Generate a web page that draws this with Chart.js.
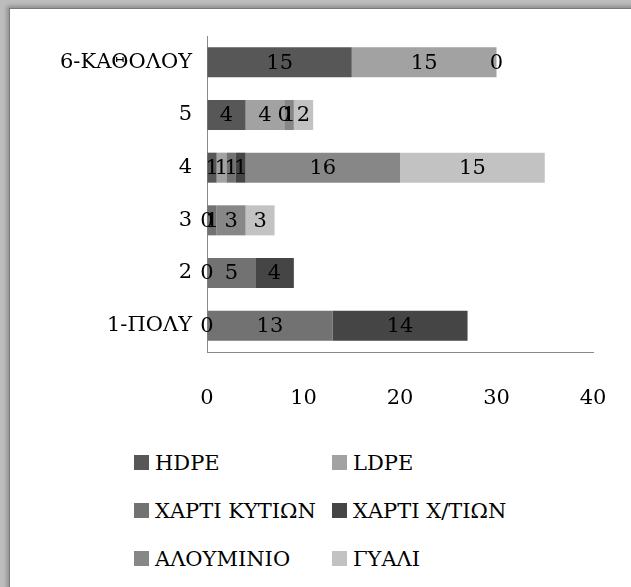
<!DOCTYPE html>
<html>
<head>
<meta charset="utf-8">
<script src="https://cdn.jsdelivr.net/npm/chart.js@4/dist/chart.umd.min.js"></script>
<style>
  html, body { margin: 0; padding: 0; }
  body { width: 631px; height: 587px; position: relative; overflow: hidden; background: #bdbdbd; }
  .frame {
    position: absolute; left: 9px; top: 8px; width: 640px; height: 600px;
    background: #fff; border-left: 1px solid #7a7a7a; border-top: 1px solid #7a7a7a;
    box-shadow: -2px -2px 4px #8c8c8c;
  }
  .chart-box { position: absolute; left: 0; top: 0; width: 631px; height: 420px; }
  .legend {
    position: absolute; left: 134px; top: 447px;
    display: grid; grid-template-columns: 198px auto; row-gap: 17px;
    font-family: "DejaVu Serif", serif; font-size: 21px; color: #000;
  }
  .legend .item { display: flex; align-items: center; height: 31px; white-space: nowrap; }
  .legend .box { width: 15px; height: 15px; margin-right: 6px; }
</style>
</head>
<body>
<div class="frame"></div>
<div class="chart-box"><canvas id="chart"></canvas></div>
<div class="legend" id="legend"></div>
<script>
// categories, top to bottom
const categories = ['6-ΚΑΘΟΛΟΥ', '5', '4', '3', '2', '1-ΠΟΛΥ'];

// series values (null = no bar / no label)
const hdpe      = [15, 4, 1, 0, 0, 0];
const ldpe      = [15, 4, 1, null, null, null];
const xartiKyt  = [0, 0, 1, 1, 5, 13];
const xartiXt   = [null, null, 1, null, 4, 14];
const alouminio = [null, 1, 16, 3, null, null];
const gyali     = [null, 2, 15, 3, null, null];

const seriesNames = ['HDPE', 'LDPE', 'ΧΑΡΤΙ ΚΥΤΙΩΝ', 'ΧΑΡΤΙ Χ/ΤΙΩΝ', 'ΑΛΟΥΜΙΝΙΟ', 'ΓΥΑΛΙ'];
const seriesData = [hdpe, ldpe, xartiKyt, xartiXt, alouminio, gyali];
const seriesColors = ['#575757', '#a2a2a2', '#727272', '#454545', '#878787', '#c2c2c2'];

const xTicks = [0, 10, 20, 30, 40];

const FONT = '"DejaVu Serif", serif';

// draws the value of each segment in its middle
const valueLabels = {
  id: 'valueLabels',
  afterDatasetsDraw(chart) {
    const c = chart.ctx;
    c.save();
    c.font = '21px ' + FONT;
    c.fillStyle = '#000';
    c.textAlign = 'center';
    c.textBaseline = 'middle';
    chart.data.datasets.forEach((ds, i) => {
      const meta = chart.getDatasetMeta(i);
      meta.data.forEach((bar, j) => {
        const v = ds.data[j];
        if (v === null || v === undefined) return;
        c.fillText(String(v), (bar.x + bar.base) / 2, bar.y + 1);
      });
    });
    c.restore();
  }
};

const chart = new Chart(document.getElementById('chart'), {
  type: 'bar',
  data: {
    labels: categories,
    datasets: seriesNames.map((name, i) => ({
      label: name,
      data: seriesData[i],
      backgroundColor: seriesColors[i],
      borderWidth: 0,
      categoryPercentage: 1,
      barPercentage: 0.57,
    })),
  },
  options: {
    indexAxis: 'y',
    responsive: true,
    maintainAspectRatio: false,
    animation: false,
    layout: { padding: { top: 36, right: 38, left: 0, bottom: 0 } },
    scales: {
      x: {
        stacked: true,
        min: 0,
        max: 40,
        afterBuildTicks: scale => { scale.ticks = xTicks.map(v => ({ value: v })); },
        afterFit: scale => { scale.height = 68; },
        // invisible tick marks push the labels down without widening the side padding
        grid: { display: true, drawOnChartArea: false, drawTicks: true, tickLength: 30, color: 'rgba(0,0,0,0)' },
        border: { display: true, color: '#8a8a8a', width: 1 },
        ticks: { padding: 4, color: '#000', font: { family: FONT, size: 21 } },
      },
      y: {
        stacked: true,
        afterFit: scale => { scale.width = 207; },
        grid: { display: false, drawTicks: false },
        border: { display: true, color: '#8a8a8a', width: 1 },
        ticks: { padding: 15, color: '#000', font: { family: FONT, size: 21 } },
      },
    },
    plugins: {
      legend: { display: false },
      tooltip: { enabled: false },
    },
  },
  plugins: [valueLabels],
});

// legend in two columns, like the original
const legendEl = document.getElementById('legend');
seriesNames.forEach((name, i) => {
  const item = document.createElement('div');
  item.className = 'item';
  const box = document.createElement('span');
  box.className = 'box';
  box.style.background = seriesColors[i];
  item.appendChild(box);
  item.appendChild(document.createTextNode(name));
  legendEl.appendChild(item);
});
</script>
</body>
</html>
